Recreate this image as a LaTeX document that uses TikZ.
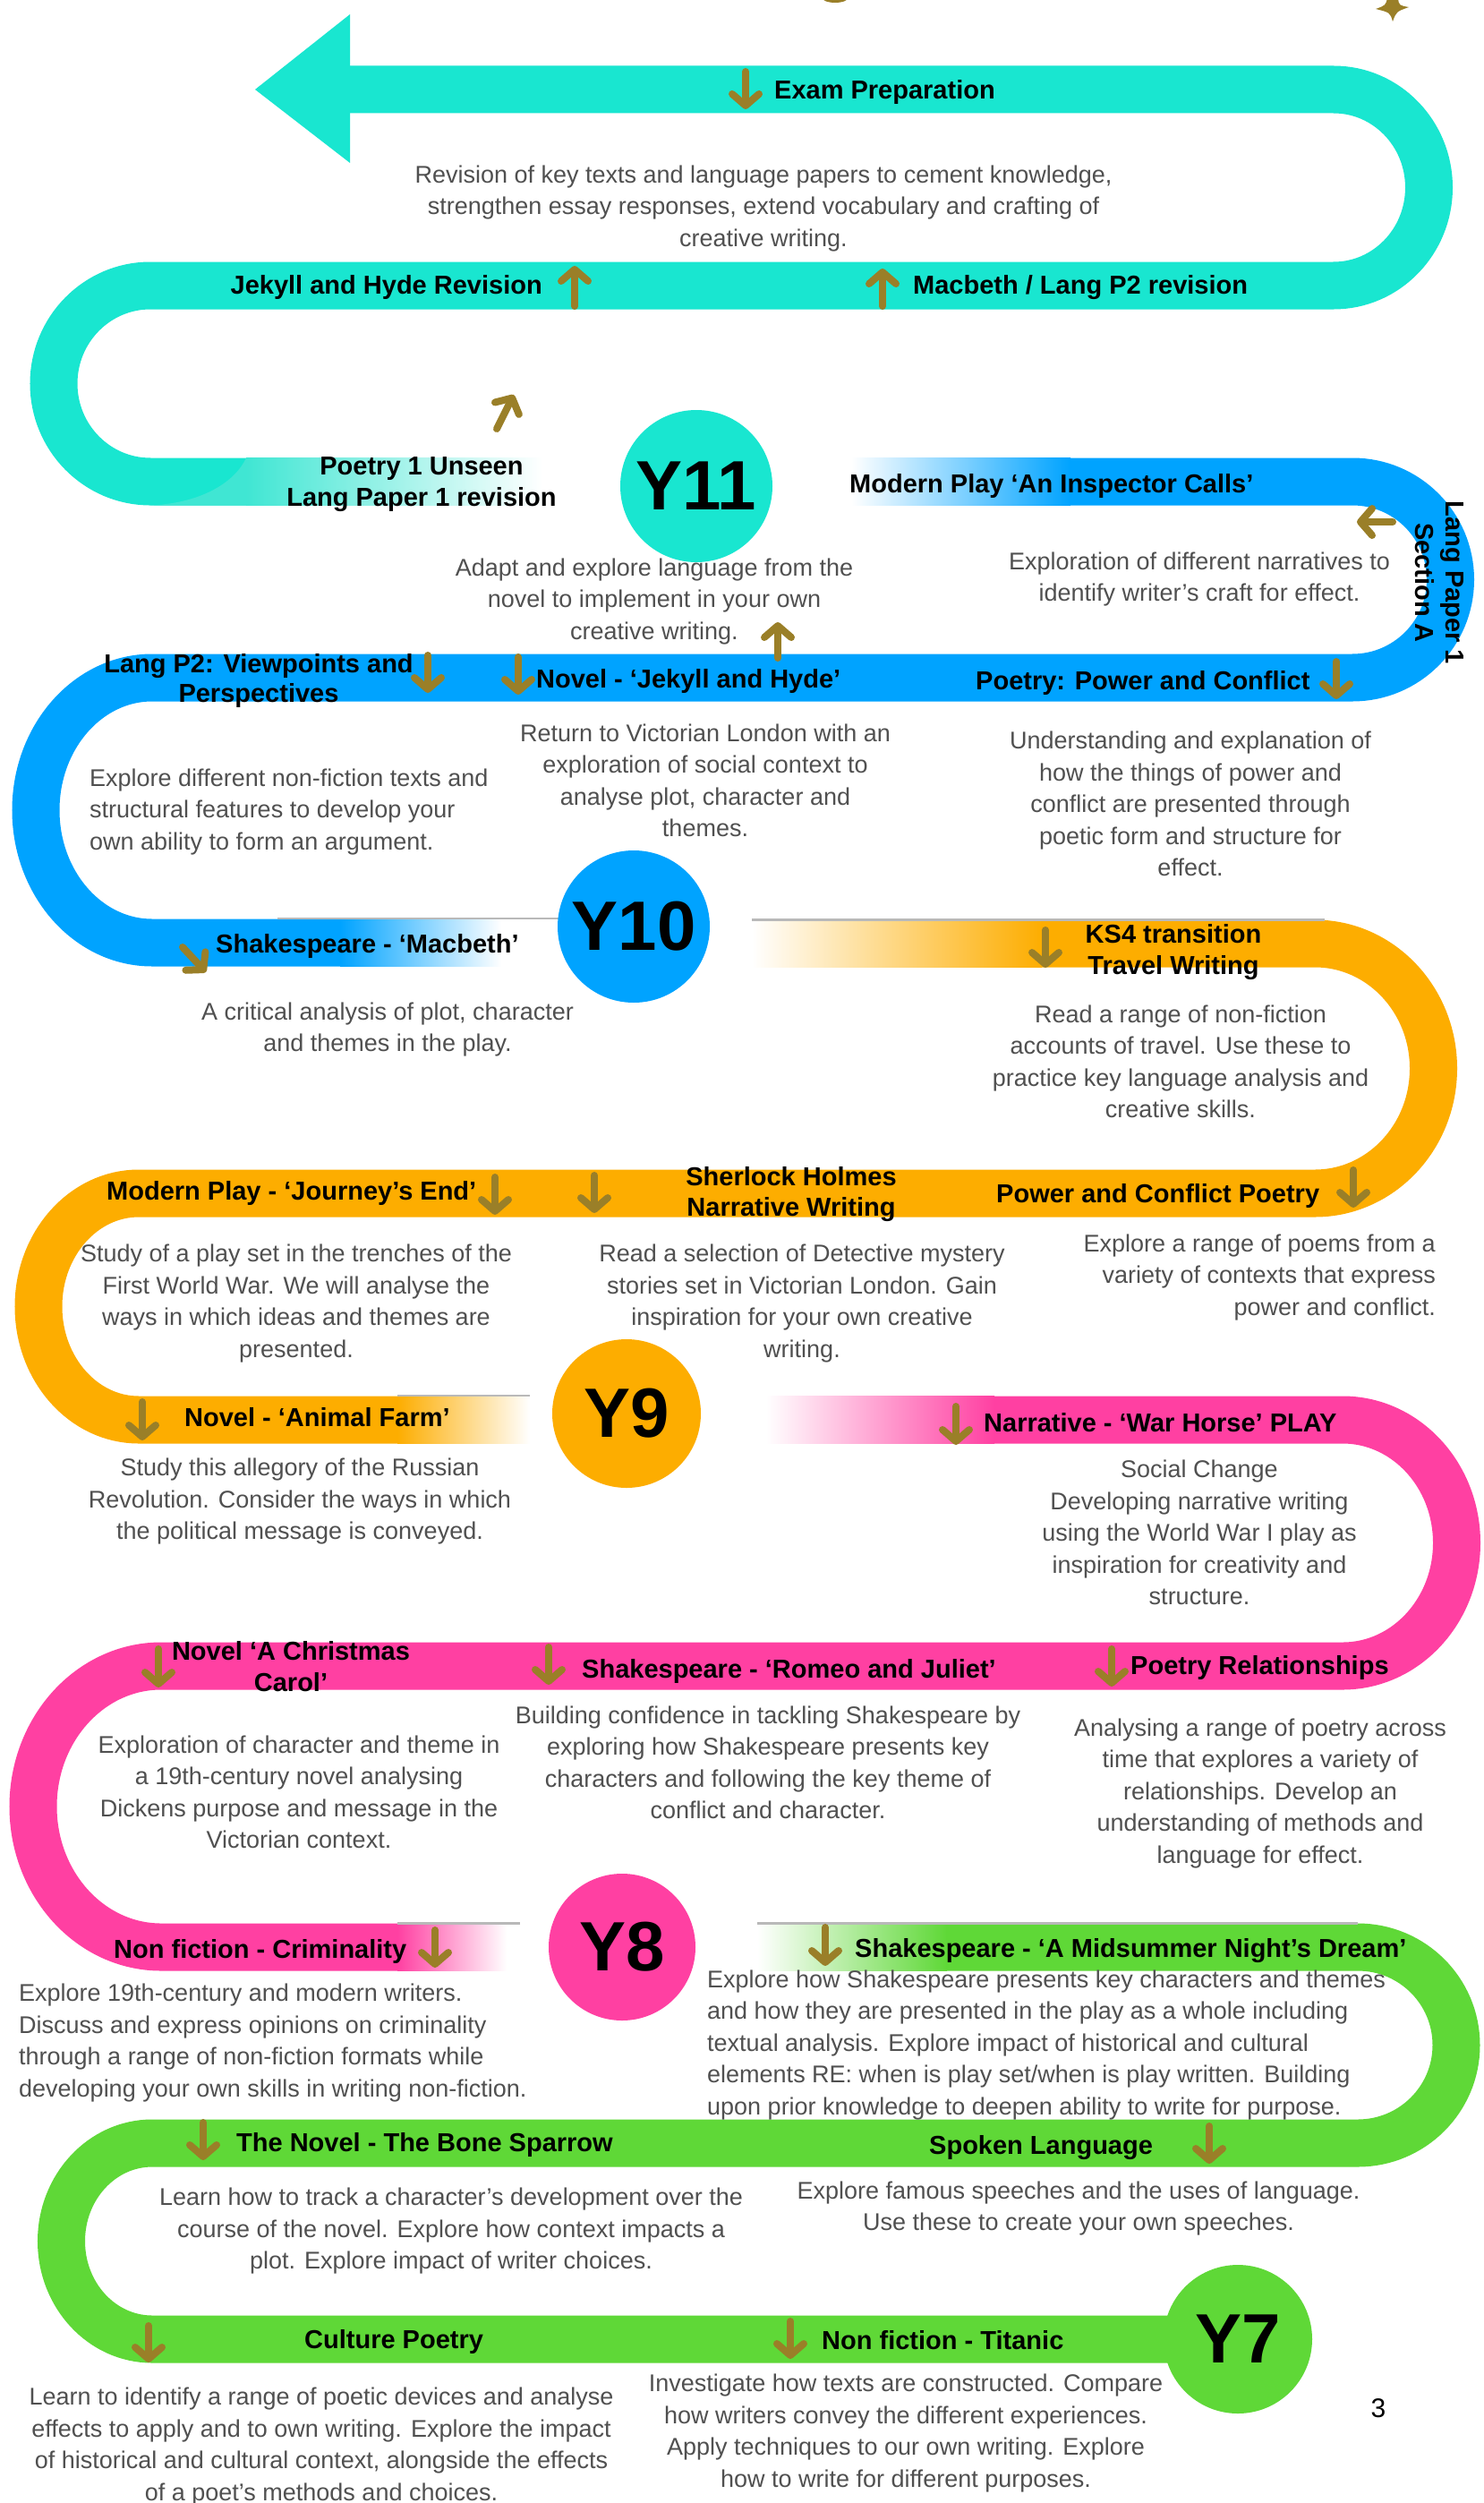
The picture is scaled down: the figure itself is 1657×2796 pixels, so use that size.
\documentclass[tikz,border=0pt]{standalone}
\usepackage{fontspec}
\setmainfont{Liberation Sans}
\usetikzlibrary{arrows.meta}
\definecolor{c11}{HTML}{19E6D0}
\definecolor{c11light}{HTML}{40E6D3}
\definecolor{c10}{HTML}{00A3FF}
\definecolor{c9}{HTML}{FDAD00}
\definecolor{c8}{HTML}{FF40A2}
\definecolor{c7}{HTML}{5FD837}
\definecolor{arrcol}{HTML}{9A7F28}
\definecolor{bodygray}{HTML}{505050}
\tikzset{
  rturn/.style n args={4}{insert path={.. controls ({#1+0.5523*#3},{#2-#4}) and ({#1+#3},{#2-0.5523*#4}) .. ({#1+#3},#2) .. controls ({#1+#3},{#2+0.5523*#4}) and ({#1+0.5523*#3},{#2+#4}) .. (#1,{#2+#4})}},
  lturn/.style n args={4}{insert path={.. controls ({#1-0.5523*#3},{#2-#4}) and ({#1-#3},{#2-0.5523*#4}) .. ({#1-#3},#2) .. controls ({#1-#3},{#2+0.5523*#4}) and ({#1-0.5523*#3},{#2+#4}) .. (#1,{#2+#4})}},
  band/.style={line width=53pt},
  topline/.style={draw=gray!55, line width=2.5pt},
  head/.style={font=\fontsize{29}{34}\selectfont\bfseries, inner sep=0pt, align=center},
  hw/.style={head, anchor=mid west, yshift=-8pt},
  he/.style={head, anchor=mid east, yshift=-8pt},
  body/.style={font=\fontsize{27}{35.5}\selectfont, text=bodygray, inner sep=0pt, align=center},
  yr/.style={font=\fontsize{78}{80}\selectfont\bfseries, inner sep=0pt},
  arr/.style={draw=arrcol, line width=8pt, line cap=round, -{Straight Barb[length=13pt,width=30pt,round]}},
}
\begin{document}
\begin{tikzpicture}[x=1pt,y=-1pt]
\fill[white] (0,0) rectangle (1657,2796);
\useasboundingbox (0,0) rectangle (1657,2796);

% ---------- top fragments ----------
\fill[arrcol] (933,-3) ellipse [x radius=15, y radius=6];
\fill[arrcol] (1556,24) .. controls (1553,14) .. (1537,10) .. controls (1548,6) .. (1550,-2) -- (1562,-2) .. controls (1563,6) .. (1574,8) .. controls (1560,13) .. (1556,24) -- cycle;

% ---------- Y11 (teal) ----------
\fill[c11] (391,16) -- (285,100) -- (391,182) -- cycle;
\draw[band, draw=c11] (389,100) -- (1490,100) [rturn={1490}{209.5}{106.5}{109.5}] -- (168,319) [lturn={168}{428.5}{108}{109.5}] -- (276,538);
\fill[c11light] (166,564.5) .. controls (222,563) and (262,540) .. (275,511.5) -- (276,511.5) -- (276,564.5) -- cycle;
\shade[left color=c11light, right color=white] (275,511.5) rectangle (606,564.5);

% ---------- Y10 (blue) ----------
\shade[left color=white, right color=c10] (951,511.5) rectangle (1196,564.5);
\draw[band, draw=c10] (1195,538) -- (1511,538) [rturn={1511}{647.5}{109.5}{109.5}] -- (170,757) [lturn={170}{905}{130}{148}] -- (381,1053);
\shade[left color=c10, right color=white] (380,1026.5) rectangle (560,1079.5);
\draw[topline] (310,1026) -- (624,1026);

% ---------- Y9 (orange) ----------
\shade[left color=white, right color=c9] (840,1027.5) rectangle (1164,1080.5);
\draw[band, draw=c9] (1163,1054) -- (1469,1054) [rturn={1469}{1193.5}{132.5}{139.5}] -- (155,1333) [lturn={155}{1459.5}{112}{126.5}] -- (445,1586);
\shade[left color=c9, right color=white] (444,1559.5) rectangle (592,1612.5);
\draw[topline] (840,1027.5) -- (1480,1027.5);
\draw[topline] (444,1559) -- (592,1559);

% ---------- Y8 (pink) ----------
\shade[left color=white, right color=c8] (856,1559.5) rectangle (1111,1612.5);
\draw[band, draw=c8] (1110,1586) -- (1500,1586) [rturn={1500}{1723.5}{127.5}{137.5}] -- (180,1861) [lturn={180}{2018}{143}{157}] -- (445,2175);
\shade[left color=c8, right color=white] (444,2148.5) rectangle (566,2201.5);
\draw[topline] (444,2148.5) -- (581,2148.5);

% ---------- Y7 (green) ----------
\shade[left color=white, right color=c7] (846,2148.5) rectangle (1058,2201.5);
\draw[band, draw=c7] (1057,2175) -- (1517,2175) [rturn={1517}{2284.5}{110}{109.5}] -- (170,2394) [lturn={170}{2503.5}{101.5}{109.5}] -- (1383,2613);
\draw[topline] (846,2148.5) -- (1517,2148.5);

% ---------- year circles ----------
\fill[c11] (778,543) circle [radius=85];
\fill[c10] (708,1035) circle [radius=85];
\fill[c9] (700,1579) circle [radius=83];
\fill[c8] (695,2175) circle [radius=82];
\fill[c7] (1383,2613) circle [radius=83];
\node[yr] (y11) at (778,543) {Y11};
\node[yr] (y10) at (708,1035) {Y10};
\node[yr] (y9) at (700,1579) {Y9};
\node[yr] (y8) at (695,2175) {Y8};
\node[yr] (y7) at (1383,2613) {Y7};

% ---------- arrows ----------
\draw[arr] (833,80) -- (833,122);
\draw[arr] (642,342) -- (642,297);
\draw[arr] (986,342) -- (986,300);
\draw[arr] (555,479) -- (574,441);
\draw[arr] (1556,583) -- (1516,583);
\draw[arr] (478,732) -- (478,774);
\draw[arr] (579,734) -- (579,776);
\draw[arr] (869,735) -- (869,695);
\draw[arr] (1493,739) -- (1493,781);
\draw[arr] (204,1058) -- (230,1086);
\draw[arr] (1168,1039) -- (1168,1081);
\draw[arr] (553,1315) -- (553,1357);
\draw[arr] (664,1313) -- (664,1355);
\draw[arr] (1512,1307) -- (1512,1349);
\draw[arr] (159,1566) -- (159,1609);
\draw[arr] (1068,1571) -- (1068,1614);
\draw[arr] (177,1842) -- (177,1885);
\draw[arr] (613,1840) -- (613,1882);
\draw[arr] (1242,1842) -- (1242,1884);
\draw[arr] (486,2156) -- (486,2198);
\draw[arr] (922,2153) -- (922,2196);
\draw[arr] (227,2371) -- (227,2413);
\draw[arr] (1351,2375) -- (1351,2417);
\draw[arr] (166,2598) -- (166,2639);
\draw[arr] (883,2593) -- (883,2635);

% ---------- headings ----------
\node[hw] (h1) at (865,100) {Exam Preparation};
\node[he] (h2) at (606,318) {Jekyll and Hyde Revision};
\node[hw] (h3) at (1020,318) {Macbeth / Lang P2 revision};
\node[head, font=\fontsize{29}{35}\selectfont\bfseries] (h4) at (471,541) {Poetry 1 Unseen\\Lang Paper 1 revision};
\node[hw] (h5) at (949,540) {Modern Play ‘An Inspector Calls’};
\node[head, rotate=-90] (h6) at (1608,651) {Lang Paper 1\\Section A};
\node[head, font=\fontsize{29}{33}\selectfont\bfseries] (h7) at (289,760) {Lang P2: Viewpoints and\\Perspectives};
\node[hw] (h8) at (599,758) {Novel - ‘Jekyll and Hyde’};
\node[hw] (h9) at (1090,760) {Poetry: Power and Conflict};
\node[hw] (h10) at (241,1054) {Shakespeare - ‘Macbeth’};
\node[head, font=\fontsize{29}{35}\selectfont\bfseries] (h11) at (1311,1064) {KS4 transition\\Travel Writing};
\node[hw] (h12) at (119,1330) {Modern Play - ‘Journey’s End’};
\node[head, font=\fontsize{29}{34}\selectfont\bfseries] (h13) at (884,1334) {Sherlock Holmes\\Narrative Writing};
\node[hw] (h14) at (1113,1333) {Power and Conflict Poetry};
\node[hw] (h15) at (206,1583) {Novel - ‘Animal Farm’};
\node[hw] (h16) at (1099,1589) {Narrative - ‘War Horse’ PLAY};
\node[head, font=\fontsize{29}{35}\selectfont\bfseries] (h17) at (325,1862) {Novel ‘A Christmas\\Carol’};
\node[hw] (h18) at (650,1864) {Shakespeare - ‘Romeo and Juliet’};
\node[hw] (h19) at (1263,1860) {Poetry Relationships};
\node[hw] (h20) at (127,2177) {Non fiction - Criminality};
\node[hw] (h21) at (955,2176) {Shakespeare - ‘A Midsummer Night’s Dream’};
\node[hw] (h22) at (264,2393) {The Novel - The Bone Sparrow};
\node[hw] (h23) at (1038,2396) {Spoken Language};
\node[hw] (h24) at (340,2613) {Culture Poetry};
\node[hw] (h25) at (918,2614) {Non fiction - Titanic};

% ---------- body texts ----------
\node[body] (b1) at (853,233) {Revision of key texts and language papers to cement knowledge,\\strengthen essay responses, extend vocabulary and crafting of\\creative writing.};
\node[body] (b2) at (731,672) {Adapt and explore language from the\\novel to implement in your own\\creative writing.};
\node[body] (b3) at (1340,647) {Exploration of different narratives to\\identify writer’s craft for effect.};
\node[body, align=left, anchor=west] (b4) at (100,907) {Explore different non-fiction texts and\\structural features to develop your\\own ability to form an argument.};
\node[body] (b5) at (788,872) {Return to Victorian London with an\\exploration of social context to\\analyse plot, character and\\themes.};
\node[body] (b6) at (1330,898) {Understanding and explanation of\\how the things of power and\\conflict are presented through\\poetic form and structure for\\effect.};
\node[body] (b7) at (433,1150) {A critical analysis of plot, character\\and themes in the play.};
\node[body] (b8) at (1319,1186) {Read a range of non-fiction\\accounts of travel. Use these to\\practice key language analysis and\\creative skills.};
\node[body] (b9) at (331,1456) {Study of a play set in the trenches of the\\First World War. We will analyse the\\ways in which ideas and themes are\\presented.};
\node[body] (b10) at (896,1456) {Read a selection of Detective mystery\\stories set in Victorian London. Gain\\inspiration for your own creative\\writing.};
\node[body, align=right, anchor=east] (b11) at (1604,1427) {Explore a range of poems from a\\variety of contexts that express\\power and conflict.};
\node[body] (b12) at (335,1677) {Study this allegory of the Russian\\Revolution. Consider the ways in which\\the political message is conveyed.};
\node[body] (b13) at (1340,1712) {Social Change\\Developing narrative writing\\using the World War I play as\\inspiration for creativity and\\structure.};
\node[body] (b14) at (334,2002) {Exploration of character and theme in\\a 19th-century novel analysing\\Dickens purpose and message in the\\Victorian context.};
\node[body] (b15) at (858,1969) {Building confidence in tackling Shakespeare by\\exploring how Shakespeare presents key\\characters and following the key theme of\\conflict and character.};
\node[body] (b16) at (1408,2003) {Analysing a range of poetry across\\time that explores a variety of\\relationships. Develop an\\understanding of methods and\\language for effect.};
\node[body, align=left, anchor=west] (b17) at (21,2282) {Explore 19th-century and modern writers.\\Discuss and express opinions on criminality\\through a range of non-fiction formats while\\developing your own skills in writing non-fiction.};
\node[body, align=left, anchor=west] (b18) at (790,2284) {Explore how Shakespeare presents key characters and themes\\and how they are presented in the play as a whole including\\textual analysis. Explore impact of historical and cultural\\elements RE: when is play set/when is play written. Building\\upon prior knowledge to deepen ability to write for purpose.};
\node[body] (b19) at (504,2492) {Learn how to track a character’s development over the\\course of the novel. Explore how context impacts a\\plot. Explore impact of writer choices.};
\node[body] (b20) at (1205,2467) {Explore famous speeches and the uses of language.\\Use these to create your own speeches.};
\node[body] (b21) at (359,2733) {Learn to identify a range of poetic devices and analyse\\effects to apply and to own writing. Explore the impact\\of historical and cultural context, alongside the effects\\of a poet’s methods and choices.};
\node[body] (b22) at (1012,2718) {Investigate how texts are constructed. Compare\\how writers convey the different experiences.\\Apply techniques to our own writing. Explore\\how to write for different purposes.};

\node[font=\fontsize{30}{32}\selectfont, inner sep=0pt] (pg) at (1540,2690) {3};
\end{tikzpicture}
\end{document}
